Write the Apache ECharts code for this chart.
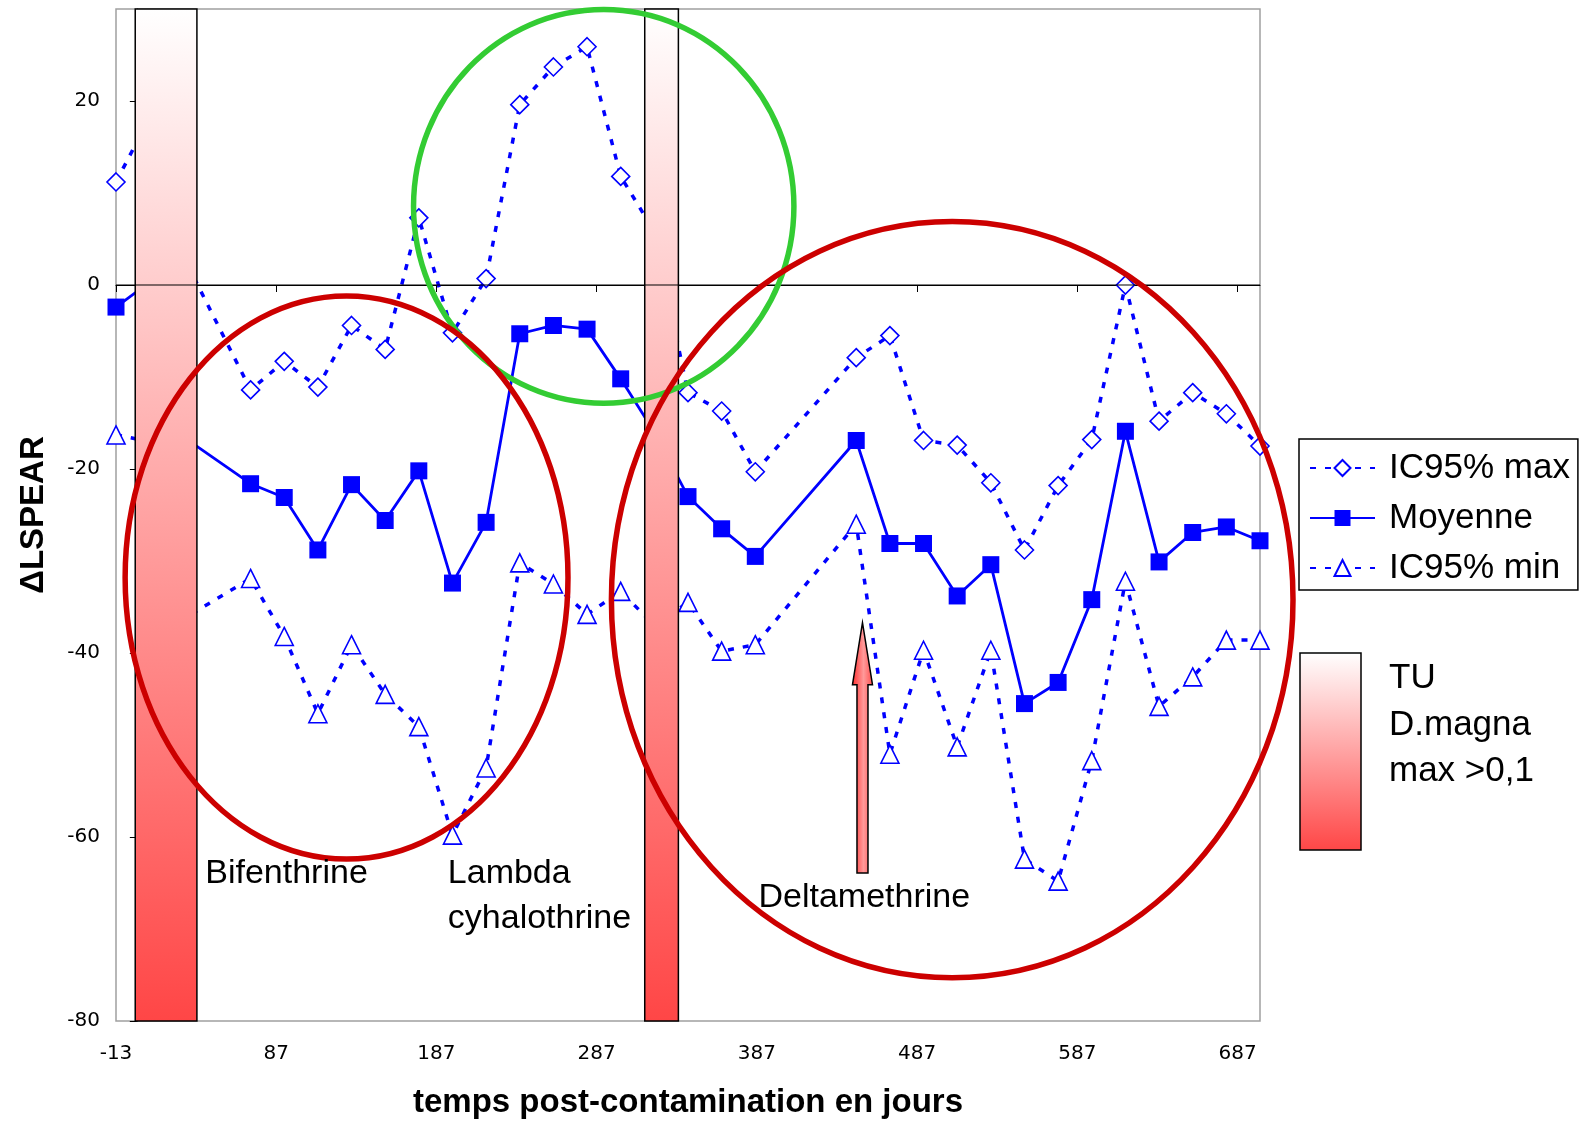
<!DOCTYPE html>
<html>
<head>
<meta charset="utf-8">
<title>ΔLSPEAR</title>
<script src="https://cdn.jsdelivr.net/npm/echarts@6.0.0/dist/echarts.min.js"></script>
<style>
  html, body { margin: 0; padding: 0; background: #fff; }
  #chart { width: 1580px; height: 1126px; }
</style>
</head>
<body>
<div id="chart"></div>
<script>
// jours post-contamination (points ~ toutes les 3 semaines)
var days = [-13, 8, 29, 71, 92, 113, 134, 155, 176, 197, 218, 239, 260, 281, 302, 323,
  344, 365, 386, 449, 470, 491, 512, 533, 554, 575, 596, 617, 638, 659, 680, 701];

var icMax = [11.2, 18.2, 3.1, -11.4, -8.3, -11.1, -4.4, -7.0, 7.3, -5.2, 0.7, 19.6, 23.7, 25.9, 11.8, 5.8,
  -11.7, -13.7, -20.3, -7.9, -5.5, -16.9, -17.4, -21.5, -28.8, -21.8, -16.8, 0.0, -14.8, -11.7, -14.0, -17.5];

var moyenne = [-2.4, 0.3, -16.5, -21.6, -23.1, -28.8, -21.7, -25.6, -20.2, -32.4, -25.8, -5.3, -4.4, -4.8, -10.2, -16.0,
  -23.0, -26.5, -29.5, -16.9, -28.1, -28.1, -33.8, -30.4, -45.5, -43.2, -34.2, -15.9, -30.1, -26.9, -26.3, -27.8];

var icMin = [-16.3, -17.0, -36.3, -31.9, -38.2, -46.6, -39.1, -44.5, -48.0, -59.8, -52.5, -30.2, -32.5, -35.8, -33.3, -37.0,
  -34.5, -39.8, -39.1, -26.0, -51.0, -39.7, -50.2, -39.7, -62.4, -64.8, -51.7, -32.2, -45.8, -42.6, -38.6, -38.6];

var xTicks = [-13, 87, 187, 287, 387, 487, 587, 687];
var yTicks = [-80, -60, -40, -20, 0, 20];

// périodes TU D.magna max > 0,1 (jours début / fin)
var tuPeriods = [[-1, 37.5], [317, 338]];

// ellipses d'annotation: centre jour, centre valeur, rayon jours, rayon valeur
var circles = [[291.4, 8.55, 118.7, 21.4], [130.9, -31.8, 138.2, 30.6], [508.9, -34.2, 212.7, 41.1]];
var circleColors = ['#33cc33', '#cc0000', '#cc0000'];

// flèche: jour, base, pointe
var arrows = [[452.9, -63.9, -36.7]];

var notePos = [[42.7, -64.0], [194.1, -64.0], [194.1, -68.9], [388.0, -66.6]];
var noteTexts = ['Bifenthrine', 'Lambda', 'cyhalothrine', 'Deltamethrine'];

var FONT = "'Liberation Sans', Arial, sans-serif";
var TICK_FONT = "'DejaVu Sans', 'Liberation Sans', sans-serif";
var X_MIN = -13, X_MAX = 701, Y_MIN = -80, Y_MAX = 30;

function pairs(ys) {
  return days.map(function (d, i) { return [d, ys[i]]; });
}

function tuGradient() {
  return new echarts.graphic.LinearGradient(0, 0, 0, 1, [
    { offset: 0, color: '#ffffff' },
    { offset: 1, color: '#ff4646' }
  ]);
}

var chart = echarts.init(document.getElementById('chart'));

var dotted = { color: '#0000ff', width: 3.5, type: [6, 9] };

var option = {
  backgroundColor: '#ffffff',
  animation: false,
  grid: {
    left: 116, right: 320, top: 9, bottom: 105,
    show: true, borderColor: '#a0a0a0', borderWidth: 1.5, backgroundColor: '#fff'
  },
  legend: {
    data: ['IC95% max', 'Moyenne', 'IC95% min'],
    orient: 'vertical',
    left: 1299, top: 439,
    padding: [10, 8, 3, 10],
    itemWidth: 65, itemHeight: 20, itemGap: 12,
    backgroundColor: '#fff',
    borderColor: '#000', borderWidth: 1.5, borderRadius: 0,
    textStyle: { fontSize: 35, color: '#000', fontFamily: FONT, lineHeight: 38, padding: [0, 0, 0, 9] }
  },
  xAxis: {
    type: 'value',
    min: X_MIN, max: X_MAX, interval: 100,
    name: 'temps post-contamination en jours',
    nameLocation: 'middle', nameGap: 65,
    nameTextStyle: { fontSize: 33, fontWeight: 'bold', color: '#000', fontFamily: FONT },
    axisLine: { lineStyle: { color: '#000', width: 1.2 } },
    axisTick: { length: 7, lineStyle: { color: '#000' } },
    axisLabel: {
      fontSize: 20, color: '#000', fontFamily: TICK_FONT, margin: 23, showMaxLabel: false,
      formatter: function (v) { return xTicks.indexOf(v) >= 0 ? String(v) : ''; }
    },
    splitLine: { show: false }
  },
  yAxis: {
    type: 'value',
    min: Y_MIN, max: Y_MAX, interval: 20,
    name: 'ΔLSPEAR',
    nameLocation: 'middle', nameGap: 66, nameRotate: 90,
    nameTextStyle: { fontSize: 33, fontWeight: 'bold', color: '#000', fontFamily: FONT },
    axisLine: { show: true, lineStyle: { color: '#000', width: 1.2 } },
    axisTick: { show: true, length: 7, lineStyle: { color: '#000' } },
    axisLabel: {
      fontSize: 20, color: '#000', fontFamily: TICK_FONT, margin: 16, showMaxLabel: false,
      formatter: function (v) { return yTicks.indexOf(v) >= 0 ? String(v) : ''; }
    },
    splitLine: { show: false }
  },
  series: [
    {
      name: 'IC95% max', type: 'line', z: 2,
      data: pairs(icMax),
      symbol: 'diamond', symbolSize: 18,
      itemStyle: { color: '#ffffff', borderColor: '#0000ff', borderWidth: 1.6 },
      lineStyle: dotted
    },
    {
      name: 'Moyenne', type: 'line', z: 2,
      data: pairs(moyenne),
      symbol: 'rect', symbolSize: 17,
      itemStyle: { color: '#0000ff' },
      lineStyle: { color: '#0000ff', width: 2.8 }
    },
    {
      name: 'IC95% min', type: 'line', z: 2,
      data: pairs(icMin),
      symbol: 'triangle', symbolSize: 18,
      itemStyle: { color: '#ffffff', borderColor: '#0000ff', borderWidth: 1.6 },
      lineStyle: dotted
    },
    {
      // bandes TU D.magna
      type: 'custom', z: 3, clip: false, silent: true,
      data: tuPeriods,
      encode: { x: [0, 1] },
      renderItem: function (params, api) {
        var p0 = api.coord([api.value(0), Y_MAX]);
        var p1 = api.coord([api.value(1), Y_MIN]);
        return {
          type: 'rect',
          shape: { x: p0[0], y: p0[1], width: p1[0] - p0[0], height: p1[1] - p0[1] },
          style: { fill: tuGradient(), stroke: '#000', lineWidth: 1.5 }
        };
      }
    },
    {
      // ligne du zéro
      type: 'custom', z: 4, silent: true,
      data: [[0]],
      encode: { y: 0 },
      renderItem: function (params, api) {
        var a = api.coord([X_MIN, api.value(0)]);
        var b = api.coord([X_MAX, api.value(0)]);
        return {
          type: 'line',
          shape: { x1: a[0], y1: a[1], x2: b[0], y2: b[1] },
          style: { stroke: '#000', lineWidth: 1.2 }
        };
      }
    },
    {
      // flèche deltaméthrine
      type: 'custom', z: 5, clip: false, silent: true,
      data: arrows,
      encode: { x: 0, y: [1, 2] },
      renderItem: function (params, api) {
        var b = api.coord([api.value(0), api.value(1)]);
        var t = api.coord([api.value(0), api.value(2)]);
        var hw = 5.5, hh = 10, hl = 62;
        var pts = [
          [b[0] - hw, b[1]], [b[0] - hw, t[1] + hl], [b[0] - hh, t[1] + hl],
          [t[0], t[1]],
          [b[0] + hh, t[1] + hl], [b[0] + hw, t[1] + hl], [b[0] + hw, b[1]]
        ];
        return {
          type: 'polygon',
          shape: { points: pts },
          style: {
            fill: new echarts.graphic.LinearGradient(0, 0, 1, 0, [
              { offset: 0, color: '#ff2a2a' },
              { offset: 0.55, color: '#ff9a9a' },
              { offset: 1, color: '#ff4a4a' }
            ]),
            stroke: '#000', lineWidth: 1.5
          }
        };
      }
    },
    {
      // ellipses
      type: 'custom', z: 6, clip: false, silent: true,
      data: circles,
      encode: { x: 0, y: 1 },
      renderItem: function (params, api) {
        var c = api.coord([api.value(0), api.value(1)]);
        var s = api.size([api.value(2), api.value(3)]);
        return {
          type: 'ellipse',
          shape: { cx: c[0], cy: c[1], rx: s[0], ry: s[1] },
          style: { fill: 'none', stroke: circleColors[params.dataIndex], lineWidth: 5.5 }
        };
      }
    },
    {
      // étiquettes
      type: 'custom', z: 7, clip: false, silent: true,
      data: notePos,
      encode: { x: 0, y: 1 },
      renderItem: function (params, api) {
        var p = api.coord([api.value(0), api.value(1)]);
        return {
          type: 'text',
          x: p[0], y: p[1],
          style: {
            text: noteTexts[params.dataIndex],
            fontSize: 34, fontFamily: FONT, fill: '#000',
            align: 'left', verticalAlign: 'middle'
          }
        };
      }
    }
  ],
  graphic: [
    {
      type: 'rect', x: 1300, y: 653, z: 10,
      shape: { width: 61, height: 197 },
      style: { fill: tuGradient(), stroke: '#000', lineWidth: 1.5 }
    },
    { type: 'text', x: 1389, y: 678, z: 10, style: { text: 'TU', fontSize: 35, fontFamily: FONT, fill: '#000', verticalAlign: 'middle' } },
    { type: 'text', x: 1389, y: 725, z: 10, style: { text: 'D.magna', fontSize: 35, fontFamily: FONT, fill: '#000', verticalAlign: 'middle' } },
    { type: 'text', x: 1389, y: 771, z: 10, style: { text: 'max >0,1', fontSize: 35, fontFamily: FONT, fill: '#000', verticalAlign: 'middle' } }
  ]
};

chart.setOption(option);
</script>
</body>
</html>
